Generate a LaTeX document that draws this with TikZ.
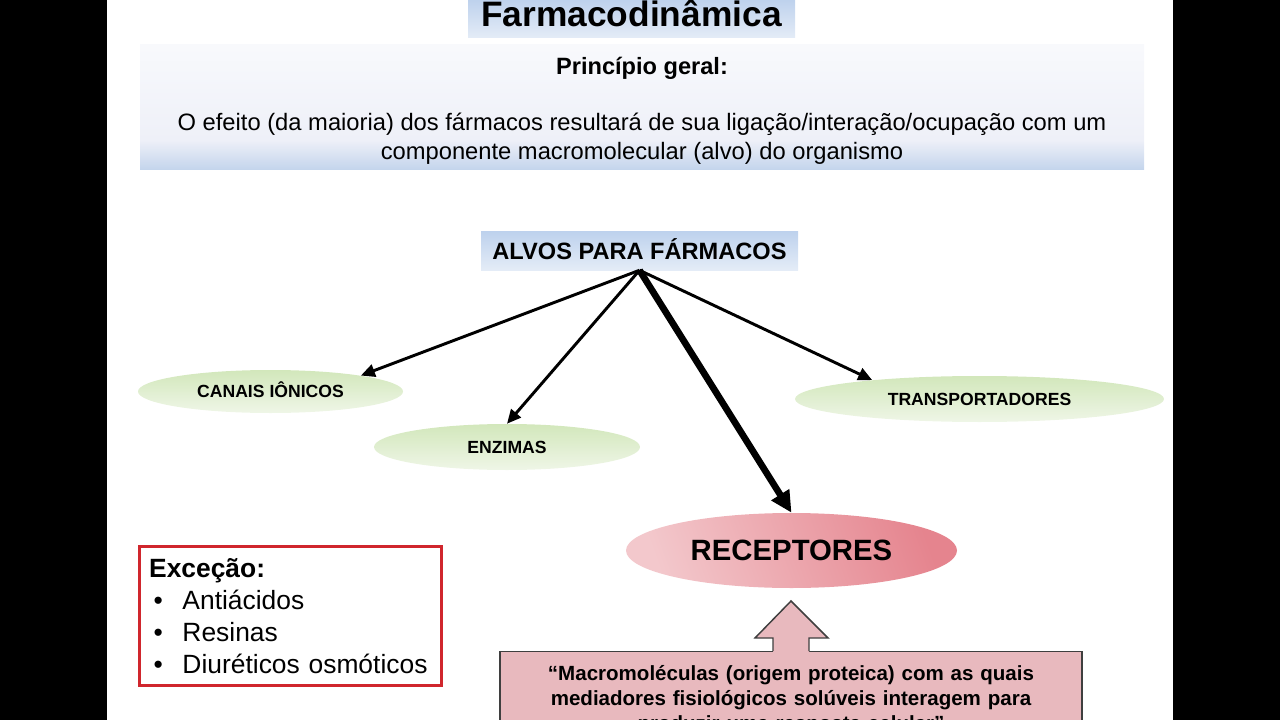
\documentclass[tikz,border=0pt]{standalone}
\usepackage{fontspec}
\setmainfont{Liberation Sans}
\usetikzlibrary{arrows.meta, positioning, shapes.geometric}
\definecolor{farmblue}{HTML}{B3CAEA}
\definecolor{farmbluelight}{HTML}{E4ECF7}
\definecolor{farmband}{HTML}{C3D4EC}
\definecolor{farmlavender}{HTML}{EEF0F8}
\definecolor{farmgreen}{HTML}{D2E7BB}
\definecolor{farmgreenlight}{HTML}{EFF6E7}
\definecolor{farmrose}{HTML}{E5848E}
\definecolor{farmroselight}{HTML}{F3C8CC}
\definecolor{farmpink}{HTML}{E8B9BE}
\definecolor{farmred}{HTML}{D0262D}
\definecolor{farmgray}{HTML}{3F3F3F}
\pgfdeclareverticalshading{princshade}{100bp}{color(0bp)=(farmband); color(25bp)=(farmband);
  color(37bp)=(farmlavender); color(75bp)=(white!60!farmlavender); color(100bp)=(white!60!farmlavender)}
\tikzset{
  titlebox/.style={top color=farmblue, bottom color=farmbluelight, inner sep=0pt,
    font=\fontsize{26.5}{30}\selectfont\bfseries},
  princbox/.style={shading=princshade, inner sep=0pt},
  princtext/.style={align=center, font=\fontsize{17.8}{21.75}\selectfont},
  alvobox/.style={top color=farmblue!85, bottom color=farmbluelight, inner sep=0pt,
    text height=12.7pt, text depth=0pt, font=\fontsize{17.7}{20}\selectfont\bfseries},
  alvo/.style={ellipse, top color=farmgreen, bottom color=farmgreenlight, inner sep=0pt,
    text height=9.5pt, text depth=0pt, font=\fontsize{13.2}{15}\selectfont\bfseries},
  receptor/.style={ellipse, left color=farmroselight, right color=farmrose, shading angle=110,
    inner sep=0pt, font=\fontsize{22}{26}\selectfont\bfseries},
  excbox/.style={draw=farmred, line width=2.25pt, fill=white, align=left,
    text width=212pt, inner xsep=7pt, font=\fontsize{19.8}{24}\selectfont},
  quotebox/.style={draw=farmgray, line width=1.1pt, fill=farmpink, align=center,
    text width=421.5pt, inner xsep=7.5pt, inner ysep=10.5pt,
    font=\fontsize{15.4}{18.75}\selectfont\bfseries},
  farmarrow/.style={-{Triangle[length=10.5pt, width=9.5pt]}, line width=2.2pt, black},
  farmthick/.style={-{Triangle[length=16pt, width=15pt]}, line width=5pt, black},
}
\newcommand{\farmitem}[1]{\hspace*{3.25pt}\makebox[21.75pt][l]{•}#1}

\begin{document}
\begin{tikzpicture}[x=0.75pt, y=-0.75pt]
  \clip (0,0) rectangle (1280,720);
  \fill[black] (0,0) rectangle (107,720);
  \fill[black] (1173,0) rectangle (1280,720);
  % Titulo
  \node[titlebox, minimum width=245.25pt, minimum height=36.75pt] (titulo) at (631.5,13.5) {Farmacodinâmica};
  % Principio geral
  \node[princbox, minimum width=753pt, minimum height=93.75pt] (principio) at (642,107.5) {};
  \node[princtext, font=\fontsize{17.7}{21.75}\selectfont\bfseries] (geral) at (642,68) {Princípio geral:};
  \node[princtext] (efeito) at (642,138.5) {O efeito (da maioria) dos fármacos resultará de sua ligação/interação/ocupação com um\\componente macromolecular (alvo) do organismo};
  % Alvos
  \node[alvobox, minimum width=237.75pt, minimum height=28.5pt] (alvos) at (639.5,251) {ALVOS PARA FÁRMACOS};
  \node[alvo, minimum width=198.75pt, minimum height=32.25pt] (canais) at (270.5,391.5) {CANAIS IÔNICOS};
  \node[alvo, minimum width=199.5pt, minimum height=34.5pt] (enzimas) at (507,447) {ENZIMAS};
  \node[alvo, minimum width=276.75pt, minimum height=34.5pt] (transp) at (979.5,399) {TRANSPORTADORES};
  \node[receptor, minimum width=248.25pt, minimum height=56.25pt] (receptores) at (791.5,550.5) {RECEPTORES};

  \draw[farmarrow] (alvos.south) -- (canais.10);
  \draw[farmarrow] (alvos.south) -- (enzimas.north);
  \draw[farmarrow] (alvos.south) -- (transp.170);
  \draw[farmthick] (alvos.south) -- (receptores.north);

  % Excecao
  \node[excbox, minimum width=226.5pt, minimum height=104.25pt] (excecao) at (290.5,616)
    {\textbf{Exceção:}\\\farmitem{Antiácidos}\\\farmitem{Resinas}\\\farmitem{Diuréticos osmóticos}};

  % Definicao de receptor
  \node[quotebox, anchor=north] (definicao) at (791,651)
    {“Macromoléculas (origem proteica) com as quais\\mediadores fisiológicos solúveis interagem para\\produzir uma resposta celular”};
  \fill[farmpink] (773,653) -- (773,638) -- (755,638) -- (791,601) -- (828,638) -- (809,638) -- (809,653) -- cycle;
  \draw[farmgray, line width=1.1pt] (773,651) -- (773,638) -- (755,638) -- (791,601) -- (828,638) -- (809,638) -- (809,651);
\end{tikzpicture}
\end{document}
